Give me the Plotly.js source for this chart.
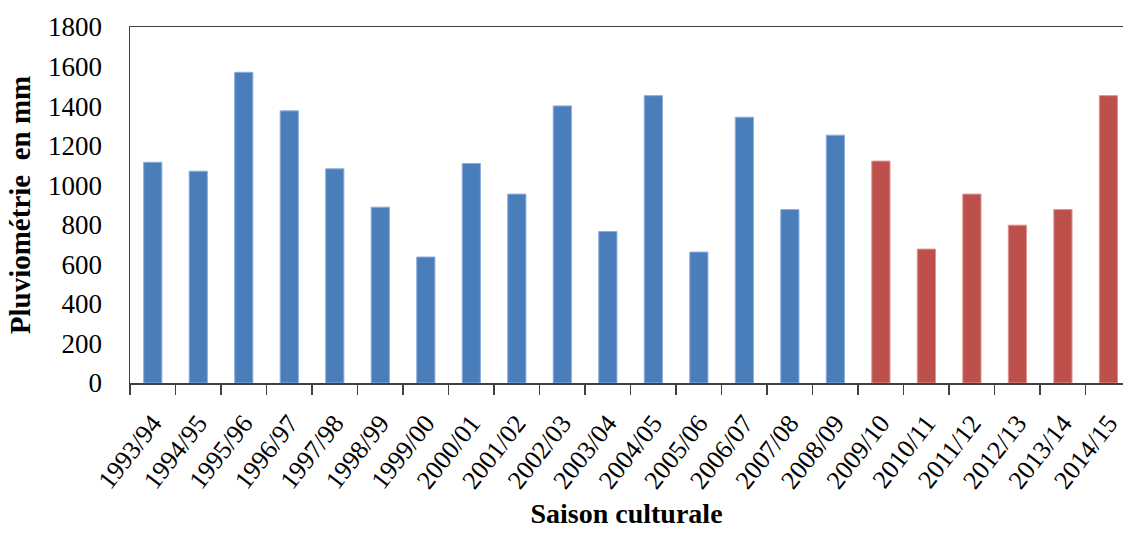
<!DOCTYPE html>
<html>
<head>
<meta charset="utf-8">
<script src="https://cdn.plot.ly/plotly-3.0.1.min.js"></script>
<style>html,body{margin:0;padding:0;background:#fff}#chart{width:1123px;height:533px}</style>
</head>
<body>
<div id="chart"></div>
<script>
var seasonsA = ["1993/94","1994/95","1995/96","1996/97","1997/98","1998/99","1999/00","2000/01","2001/02","2002/03","2003/04","2004/05","2005/06","2006/07","2007/08","2008/09"];
var valuesA = [1116, 1071, 1571, 1376, 1083, 889, 637, 1110, 955, 1401, 766, 1453, 662, 1344, 877, 1253];
var seasonsB = ["2009/10","2010/11","2011/12","2012/13","2013/14","2014/15"];
var valuesB = [1122, 677, 955, 798, 877, 1453];
var yTicks = [0, 200, 400, 600, 800, 1000, 1200, 1400, 1600, 1800];

var serif = '"Liberation Serif", "Times New Roman", serif';
var traces = [
  {type: 'bar', x: seasonsA, y: valuesA, width: 0.4,
   marker: {color: '#4A7EBB', line: {color: '#8EAEDB', width: 1}}, hoverinfo: 'x+y'},
  {type: 'bar', x: seasonsB, y: valuesB, width: 0.4,
   marker: {color: '#BE504C', line: {color: '#DB9593', width: 1}}, hoverinfo: 'x+y'}
];
var layout = {
  width: 1123, height: 533,
  margin: {l: 130, r: 0, t: 27, b: 150},
  paper_bgcolor: '#fff', plot_bgcolor: '#fff',
  showlegend: false,
  barmode: 'overlay',
  font: {family: serif, color: '#000'},
  xaxis: {
    type: 'category',
    range: [-0.5, 21.32],
    showline: true, linecolor: '#404040', linewidth: 1.5, mirror: true,
    ticks: 'outside', tickson: 'boundaries', ticklen: 10, tickcolor: '#404040', tickwidth: 1.5,
    tickangle: -52, ticklabelstandoff: 13,
    tickfont: {family: serif, size: 26, color: '#000'},
    showgrid: false, zeroline: false,
    title: {text: 'Saison culturale', font: {family: serif, size: 28, color: '#000', weight: 'bold'}, standoff: 10}
  },
  yaxis: {
    range: [0, 1800],
    tickvals: yTicks, ticktext: yTicks.map(String),
    showline: true, linecolor: '#404040', linewidth: 1.5,
    ticks: '', ticklabelstandoff: 21,
    tickfont: {family: serif, size: 27, color: '#000'},
    showgrid: false, zeroline: false,
    title: {text: 'Pluviométrie  en mm', font: {family: serif, size: 29, color: '#000', weight: 'bold'}, standoff: 9}
  }
};
Plotly.newPlot('chart', traces, layout, {displayModeBar: false, staticPlot: true});
</script>
</body>
</html>
